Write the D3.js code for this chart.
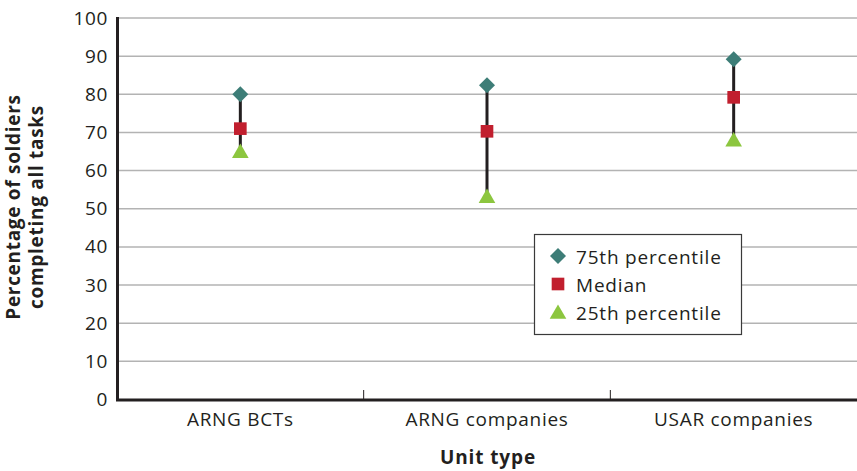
<!DOCTYPE html>
<html>
<head>
<meta charset="utf-8">
<script src="https://cdn.jsdelivr.net/npm/d3@7"></script>
<style>
  body { margin: 0; background: #fff; }
  svg text { font-family: "Open Sans", sans-serif; fill: #231f20; }
</style>
</head>
<body>
<div id="vis-container"></div>
<script>
(() => {

    ////////////////////////////////////
    ////////////// Data ////////////////
    ////////////////////////////////////

    const unitTypes = ["ARNG BCTs", "ARNG companies", "USAR companies"]
    const p75 = [80, 82.4, 89.2]
    const median = [71, 70.3, 79.2]
    const p25 = [65.1, 53.3, 68.1]
    const yTicks = [0, 10, 20, 30, 40, 50, 60, 70, 80, 90, 100]
    const legendItems = ["75th percentile", "Median", "25th percentile"]

    ////////////////////////////////////
    ///////////// SVG Setup ////////////
    ////////////////////////////////////

    const svgWidth = 857
    const svgHeight = 471
    const margin = { left: 117, right: 0, top: 18, bottom: 72 }
    const width = svgWidth - margin.left - margin.right
    const height = svgHeight - margin.top - margin.bottom

    const svg = d3.select('#vis-container')
        .append('svg')
        .attr('width', svgWidth)
        .attr('height', svgHeight)

    const g = svg.append('g')
        .attr('transform', `translate(${margin.left},${margin.top})`)

    ////////////////////////////////////
    /////////////// Scales /////////////
    ////////////////////////////////////

    const xScale = d3.scaleBand()
        .domain(unitTypes)
        .range([0, width])

    const yScale = d3.scaleLinear()
        .domain([0, 100])
        .range([height + 0.5, 0])

    const colors = { p75: '#3d7d77', median: '#c11f2e', p25: '#8cc63f' }

    ////////////////////////////////////
    ////////////// Grid ////////////////
    ////////////////////////////////////

    g.append('g')
        .selectAll('line')
        .data(yTicks.filter(d => d > 0))
        .join('line')
        .attr('x1', 0)
        .attr('x2', width)
        .attr('y1', d => yScale(d))
        .attr('y2', d => yScale(d))
        .attr('stroke', '#b3b3b3')
        .attr('stroke-width', 1.5)

    ////////////////////////////////////
    ////////////// Axis ////////////////
    ////////////////////////////////////

    const yAxis = d3.axisLeft(yScale)
        .tickValues(yTicks)
        .tickSize(0)
        .tickPadding(9)

    const yG = g.append('g').call(yAxis)
    yG.select('.domain').remove()
    yG.selectAll('text')
        .style('font-size', '19px')
        .style('letter-spacing', '0.6px')
        .attr('fill', '#231f20')

    // x axis: category labels + small upward ticks at band boundaries
    const xAxis = d3.axisBottom(xScale).tickSize(0).tickPadding(14)
    const xG = g.append('g')
        .attr('transform', `translate(0,${height})`)
        .call(xAxis)
    xG.select('.domain').remove()
    xG.selectAll('text')
        .style('font-size', '19px')
        .style('letter-spacing', '0.7px')
        .attr('fill', '#231f20')

    g.append('g')
        .selectAll('line')
        .data(unitTypes.slice(1))
        .join('line')
        .attr('x1', d => xScale(d))
        .attr('x2', d => xScale(d))
        .attr('y1', height)
        .attr('y2', height - 9)
        .attr('stroke', '#231f20')
        .attr('stroke-width', 1)

    // axis lines
    g.append('path')
        .attr('d', `M0.5,-1V${height + 1}H${width}`)
        .attr('fill', 'none')
        .attr('stroke', '#231f20')
        .attr('stroke-width', 3)

    // axis titles
    svg.append('text')
        .attr('x', margin.left + width / 2 + 1)
        .attr('y', 464)
        .attr('text-anchor', 'middle')
        .style('font-size', '19px')
        .style('font-weight', 'bold')
        .style('letter-spacing', '0.9px')
        .text('Unit type')

    const yTitle = svg.append('text')
        .attr('transform', `translate(20,207) rotate(-90)`)
        .attr('text-anchor', 'middle')
        .style('font-size', '19px')
        .style('font-weight', 'bold')
        .style('letter-spacing', '0.7px')
    yTitle.append('tspan').attr('x', 0).attr('dy', 0).text('Percentage of soldiers')
    yTitle.append('tspan').attr('x', 0).attr('dy', 23).text('completing all tasks')

    ////////////////////////////////////
    ///////////// Add Items ////////////
    ////////////////////////////////////

    const cx = d => xScale(d) + xScale.bandwidth() / 2

    // range lines
    g.append('g')
        .selectAll('line')
        .data(unitTypes)
        .join('line')
        .attr('x1', d => cx(d))
        .attr('x2', d => cx(d))
        .attr('y1', (d, i) => yScale(p75[i]))
        .attr('y2', (d, i) => yScale(p25[i]))
        .attr('stroke', '#231f20')
        .attr('stroke-width', 3)

    const diamond = d3.symbol().type(d3.symbolSquare).size(128)
    const square = d3.symbol().type(d3.symbolSquare).size(160)
    const triangle = d3.symbol().type(d3.symbolTriangle).size(120)

    g.append('g')
        .selectAll('path')
        .data(unitTypes)
        .join('path')
        .attr('d', diamond)
        .attr('transform', (d, i) => `translate(${cx(d)},${yScale(p75[i])}) rotate(45)`)
        .attr('fill', colors.p75)

    g.append('g')
        .selectAll('path')
        .data(unitTypes)
        .join('path')
        .attr('d', square)
        .attr('transform', (d, i) => `translate(${cx(d)},${yScale(median[i])})`)
        .attr('fill', colors.median)

    g.append('g')
        .selectAll('path')
        .data(unitTypes)
        .join('path')
        .attr('d', triangle)
        .attr('transform', (d, i) => `translate(${cx(d)},${yScale(p25[i]) + 2})`)
        .attr('fill', colors.p25)

    ////////////////////////////////////
    ////////////// Legend //////////////
    ////////////////////////////////////

    const legend = svg.append('g').attr('transform', 'translate(534,234)')

    legend.append('rect')
        .attr('x', 0.5)
        .attr('y', 0.5)
        .attr('width', 207)
        .attr('height', 100)
        .attr('fill', '#fff')
        .attr('stroke', '#3a3a3a')
        .attr('stroke-width', 1.2)

    const legendSymbols = [
        { d: diamond, rot: 45, fill: colors.p75, dy: 0 },
        { d: square, rot: 0, fill: colors.median, dy: 0 },
        { d: triangle, rot: 0, fill: colors.p25, dy: 2 }
    ]

    const rows = legend.selectAll('g.row')
        .data(legendItems)
        .join('g')
        .attr('class', 'row')
        .attr('transform', (d, i) => `translate(0,${22 + i * 28})`)

    rows.append('path')
        .attr('d', (d, i) => legendSymbols[i].d())
        .attr('transform', (d, i) => `translate(24,${legendSymbols[i].dy}) rotate(${legendSymbols[i].rot})`)
        .attr('fill', (d, i) => legendSymbols[i].fill)

    rows.append('text')
        .attr('x', 42)
        .attr('y', 8)
        .style('font-size', '19px')
        .style('letter-spacing', '0.8px')
        .text(d => d)

})()
</script>
</body>
</html>
